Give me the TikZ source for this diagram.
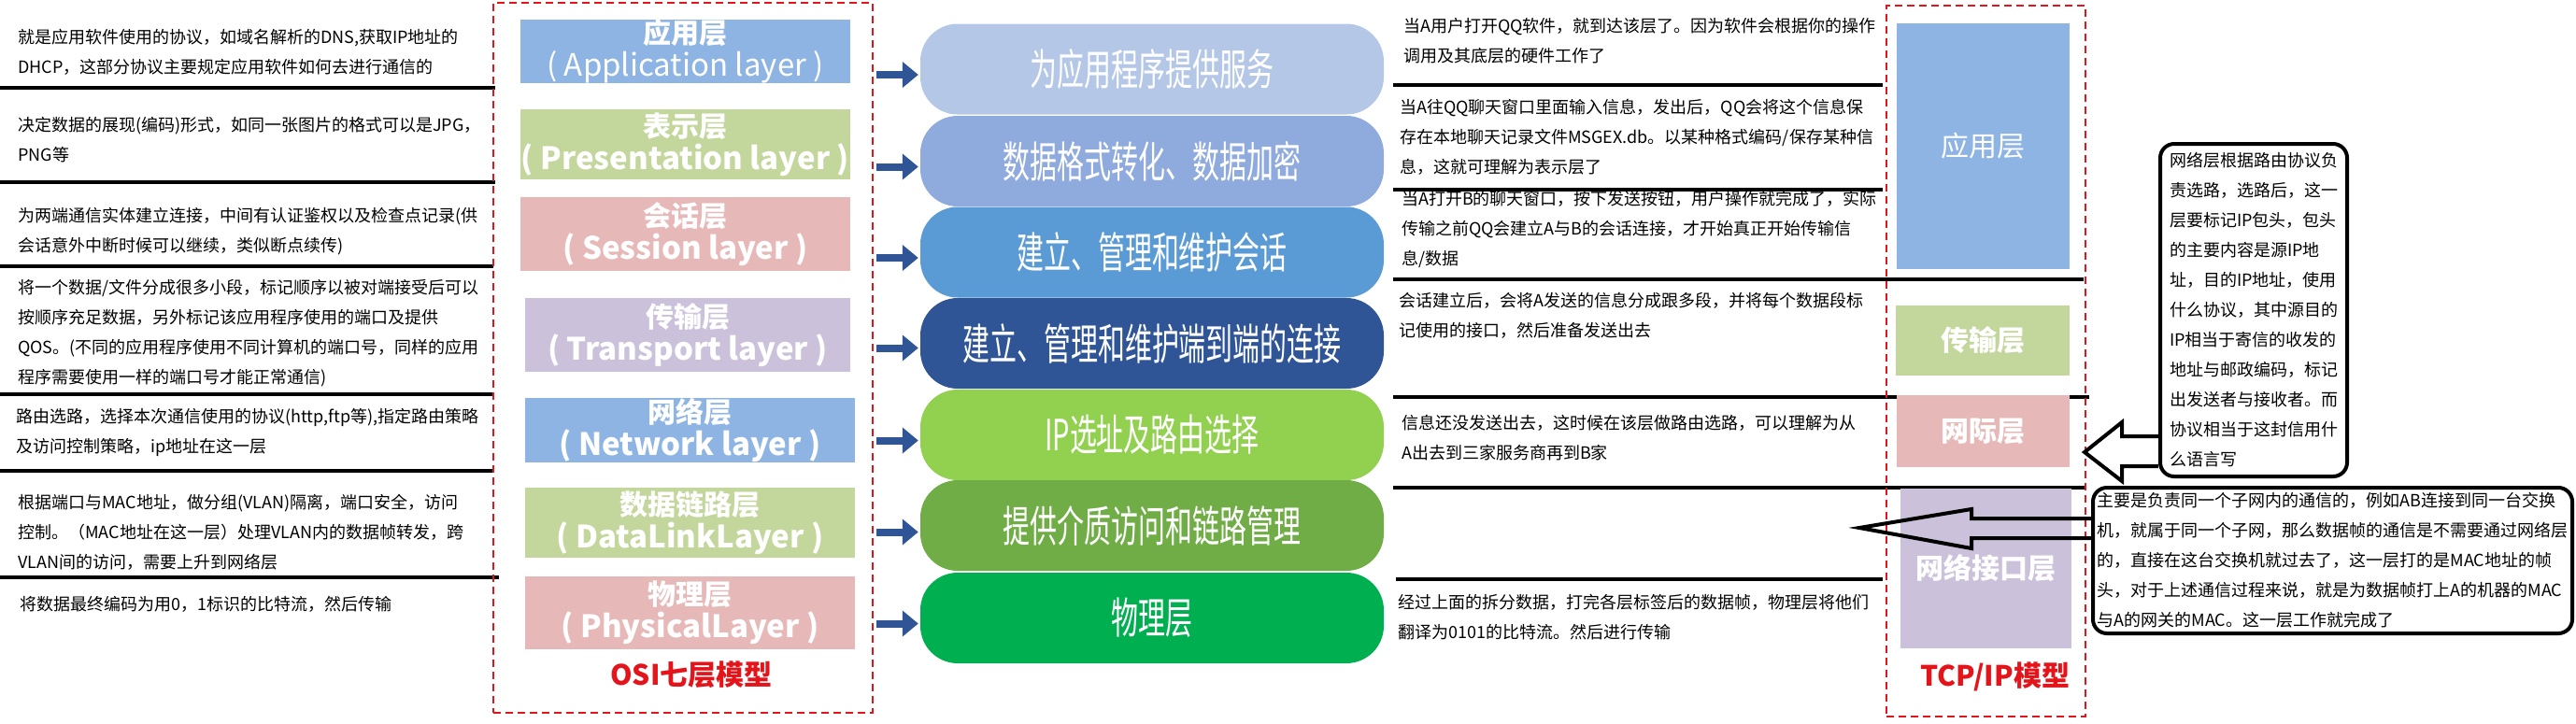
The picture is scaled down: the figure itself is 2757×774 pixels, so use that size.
\documentclass[tikz,border=0pt]{standalone}
\usepackage{fontspec}
\setmainfont{Noto Sans CJK SC}
\newfontfamily\capfont[FakeStretch=0.63]{Noto Sans CJK SC}
\usepackage{tikz}
\usetikzlibrary{calc,arrows.meta}
\definecolor{lblue}{HTML}{8EB4E3}
\definecolor{lgreen}{HTML}{C3D69B}
\definecolor{lpink}{HTML}{E6B9B8}
\definecolor{lpurple}{HTML}{CCC1DA}
\definecolor{capa}{HTML}{B4C7E7}
\definecolor{capb}{HTML}{8FAADC}
\definecolor{capc}{HTML}{5B9BD5}
\definecolor{capd}{HTML}{2F5597}
\definecolor{cape}{HTML}{92D050}
\definecolor{capf}{HTML}{70AD47}
\definecolor{capg}{HTML}{00B050}
\definecolor{arrblue}{HTML}{2F5597}
\definecolor{osired}{HTML}{E4141B}
\tikzset{
  note/.style={anchor=west, align=left, inner sep=0pt, font=\fontsize{18}{32}\selectfont},
  osibox/.style={minimum width=353pt, inner sep=0pt, align=center, text=white, font=\fontsize{30}{35}\selectfont\bfseries},
  tcpbox/.style={inner sep=0pt, text=white, font=\fontsize{30}{35}\selectfont\bfseries},
  caps/.style={rounded corners=40pt, minimum width=496pt, minimum height=97pt, inner sep=0pt, text=white, font=\capfont\fontsize{46}{50}\selectfont},
  reddash/.style={draw=osired, line width=2.5pt, dash pattern=on 8pt off 5pt, inner sep=0pt},
  blarr/.style={draw=arrblue, line width=8pt, -{Triangle[length=17pt,width=27pt]}},
  sepline/.style={line width=4pt},
  callbox/.style={draw, line width=4pt, rounded corners=15pt, align=left, inner sep=0pt, font=\fontsize{18}{32}\selectfont},
  callarrow/.style={line width=4pt},
  modeltitle/.style={text=osired, font=\fontsize{30}{35}\selectfont\bfseries}
}
\newcommand{\englabel}[1]{{\fontsize{33}{35}\selectfont #1}}

\begin{document}
\begin{tikzpicture}[x=1pt,y=-1pt]
			%%%%% START %%%%%
			\useasboundingbox (0,0) rectangle (2757,774);
			
			\node[note] (l1) at (19,56) {就是应用软件使用的协议，如域名解析的DNS,获取IP地址的\\DHCP，这部分协议主要规定应用软件如何去进行通信的};
			\node[note] (l2) at (19,150) {决定数据的展现(编码)形式，如同一张图片的格式可以是JPG，\\PNG等};
			\node[note] (l3) at (19,247.5) {为两端通信实体建立连接，中间有认证鉴权以及检查点记录(供\\会话意外中断时候可以继续，类似断点续传)};
			\node[note] (l4) at (19,356.5) {将一个数据/文件分成很多小段，标记顺序以被对端接受后可以\\按顺序充足数据，另外标记该应用程序使用的端口及提供\\QOS。(不同的应用程序使用不同计算机的端口号，同样的应用\\程序需要使用一样的端口号才能正常通信)};
			\node[note] (l5) at (17,462.5) {路由选路，选择本次通信使用的协议(http,ftp等),指定路由策略\\及访问控制策略，ip地址在这一层};
			\node[note] (l6) at (19,569.5) {根据端口与MAC地址，做分组(VLAN)隔离，端口安全，访问\\控制。（MAC地址在这一层）处理VLAN内的数据帧转发，跨\\VLAN间的访问，需要上升到网络层};
			\node[note] (l7) at (21,647) {将数据最终编码为用0，1标识的比特流，然后传输};
			
			\draw[sepline] (0,94) -- (530,94);
			\draw[sepline] (0,195) -- (530,195);
			\draw[sepline] (0,285) -- (528,285);
			\draw[sepline] (0,422) -- (528,422);
			\draw[sepline] (0,504) -- (529,504);
			\draw[sepline] (0,618) -- (534,618);
			
			\node[reddash, minimum width=406pt, minimum height=760pt] (osi) at (731,383) {};
			\node[osibox, fill=lblue, minimum height=66pt] (o1) at (733.5,55) {应用层\\\englabel{\mdseries ( Application layer )}};
			\node[osibox, fill=lgreen, minimum height=75pt] (o2) at (733.5,154.5) {表示层\\\englabel{( Presentation layer )}};
			\node[osibox, fill=lpink, minimum height=79pt] (o3) at (733.5,250.5) {会话层\\\englabel{( Session layer )}};
			\node[osibox, fill=lpurple, minimum width=348pt, minimum height=79pt] (o4) at (736,358.5) {传输层\\\englabel{( Transport layer )}};
			\node[osibox, fill=lblue, minimum height=65pt] (o5) at (738.5,460.5) {网络层\\\englabel{( Network layer )}};
			\node[osibox, fill=lgreen, minimum height=75pt] (o6) at (738.5,559.5) {数据链路层\\\englabel{( DataLinkLayer )}};
			\node[osibox, fill=lpink, minimum height=78pt] (o7) at (738.5,656) {物理层\\\englabel{( PhysicalLayer )}};
			\node[modeltitle] (osititle) at (740,722) {OSI七层模型};
			
			\node[caps, fill=capa] (c1) at (1233,74) {为应用程序提供服务};
			\node[caps, fill=capb] (c2) at (1233,172.5) {数据格式转化、数据加密};
			\node[caps, fill=capc] (c3) at (1233,270) {建立、管理和维护会话};
			\node[caps, fill=capd] (c4) at (1233,367.5) {建立、管理和维护端到端的连接};
			\node[caps, fill=cape] (c5) at (1233,465.5) {IP选址及路由选择};
			\node[caps, fill=capf] (c6) at (1233,562.5) {提供介质访问和链路管理};
			\node[caps, fill=capg] (c7) at (1233,661.5) {物理层};
			
			\draw[blarr] ($(osi.east |- c1.west)+(3,6)$) -- ($(c1.west)+(-2,6)$);
			\draw[blarr] ($(osi.east |- c2.west)+(3,6)$) -- ($(c2.west)+(-2,6)$);
			\draw[blarr] ($(osi.east |- c3.west)+(3,6)$) -- ($(c3.west)+(-2,6)$);
			\draw[blarr] ($(osi.east |- c4.west)+(3,5)$) -- ($(c4.west)+(-2,5)$);
			\draw[blarr] ($(osi.east |- c5.west)+(3,6)$) -- ($(c5.west)+(-2,6)$);
			\draw[blarr] ($(osi.east |- c6.west)+(3,7)$) -- ($(c6.west)+(-2,7)$);
			\draw[blarr] ($(osi.east |- c7.west)+(3,6)$) -- ($(c7.west)+(-2,6)$);
			
			\node[note] (m1) at (1502,44) {当A用户打开QQ软件，就到达该层了。因为软件会根据你的操作\\调用及其底层的硬件工作了};
			\node[note] (m2) at (1498,146.5) {当A往QQ聊天窗口里面输入信息，发出后，QQ会将这个信息保\\存在本地聊天记录文件MSGEX.db。以某种格式编码/保存某种信\\息，这就可理解为表示层了};
			\node[note] (m3) at (1500,245) {当A打开B的聊天窗口，按下发送按钮，用户操作就完成了，实际\\传输之前QQ会建立A与B的会话连接，才开始真正开始传输信\\息/数据};
			\node[note] (m4) at (1497,337.5) {会话建立后，会将A发送的信息分成跟多段，并将每个数据段标\\记使用的接口，然后准备发送出去};
			\node[note] (m5) at (1500,468.5) {信息还没发送出去，这时候在该层做路由选路，可以理解为从\\A出去到三家服务商再到B家};
			\node[note] (m7) at (1496,661) {经过上面的拆分数据，打完各层标签后的数据帧，物理层将他们\\翻译为0101的比特流。然后进行传输};
			
			\draw[sepline] (1491,91) -- (2015,91);
			\draw[sepline] (1491,203) -- (2015,203);
			\draw[sepline] (1491,299) -- (2230,299);
			\draw[sepline] (1491,425) -- (2236,425);
			\draw[sepline] (1491,522) -- (2233,522);
			\draw[sepline] (1494,620) -- (2015,620);
			
			\node[reddash, minimum width=213pt, minimum height=761pt] (tcp) at (2125.5,386.5) {};
			\node[tcpbox, fill=lblue, minimum width=185pt, minimum height=263pt] (p1) at (2122.5,156.5) {\mdseries 应用层};
			\node[tcpbox, fill=lgreen, minimum width=186pt, minimum height=75pt] (p2) at (2122,364.5) {传输层};
			\node[tcpbox, fill=lpink, minimum width=185pt, minimum height=77pt] (p3) at (2122.5,461.5) {网际层};
			\node[tcpbox, fill=lpurple, minimum width=183pt, minimum height=171pt] (p4) at (2125.5,608.5) {网络接口层};
			\node[modeltitle] (tcptitle) at (2135,724) {TCP/IP模型};
			
			\node[callbox, fill=white, minimum width=200pt, minimum height=356pt] (callnet) at (2412,332) {网络层根据路由协议负\\责选路，选路后，这一\\层要标记IP包头，包头\\的主要内容是源IP地\\址，目的IP地址，使用\\什么协议，其中源目的\\IP相当于寄信的收发的\\地址与邮政编码，标记\\出发送者与接收者。而\\协议相当于这封信用什\\么语言写};
			\node[callbox, fill=white, minimum width=513pt, minimum height=156pt] (calllink) at (2496.5,600) {主要是负责同一个子网内的通信的，例如AB连接到同一台交换\\机，就属于同一个子网，那么数据帧的通信是不需要通过网络层\\的，直接在这台交换机就过去了，这一层打的是MAC地址的帧\\头，对于上述通信过程来说，就是为数据帧打上A的机器的MAC\\与A的网关的MAC。这一层工作就完成了};
			
			\draw[callarrow] ($(callnet.south west)+(0,-45)$) -- ++(-39,0) -- ++(0,-15) -- ++(-40,32) -- ++(40,31) -- ++(0,-16) -- ++(39,0);
			\draw[callarrow] ($(calllink.south west)+(0,-125)$) -- ++(-128,0) -- ++(0,-10) -- ++(-120,20) -- ++(120,22) -- ++(0,-11) -- ++(128,0);
			
			%%%%% END %%%%%
\end{tikzpicture}
\end{document}
